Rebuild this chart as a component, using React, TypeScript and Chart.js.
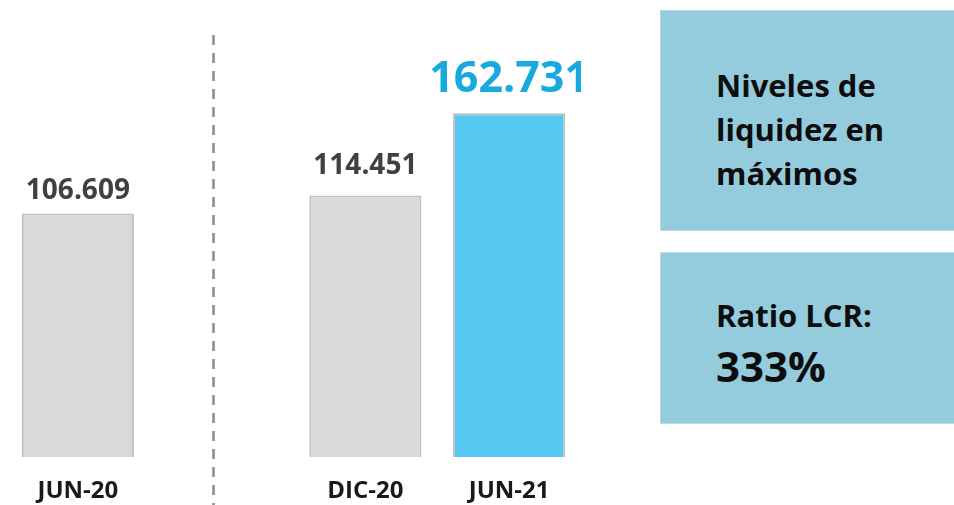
import React, { useEffect, useRef } from "react";
import { Chart, registerables } from "chart.js";

Chart.register(...registerables);

const categories = ["JUN-20", "", "DIC-20", "JUN-21"];
// bar heights as drawn in the picture (the chart is not to scale for the last bar)
const barHeights = [106.609, null, 114.451, 150.5];
const valueLabels = ["106.609", "", "114.451", "162.731"];
const barColors = ["#D9D9D9", "#D9D9D9", "#D9D9D9", "#56C9F3"];
const labelColors = ["#404040", "#404040", "#404040", "#18A9DE"];
const labelSizes = [28, 28, 28, 43];
const labelGaps = [14, 0, 22, 21];
const boxTitle = ["Niveles de", "liquidez en", "máximos"];
const ratioLabel = "Ratio LCR:";
const ratioValue = "333%";

const FONT = "'Open Sans', sans-serif";

const valueLabelPlugin = {
  id: "valueLabels",
  afterDatasetsDraw(chart: any) {
    const ctx = chart.ctx;
    const meta = chart.getDatasetMeta(0);
    ctx.save();
    ctx.textAlign = "center";
    ctx.textBaseline = "alphabetic";
    meta.data.forEach((bar: any, i: number) => {
      if (!valueLabels[i]) return;
      ctx.font = `bold ${labelSizes[i]}px ${FONT}`;
      ctx.fillStyle = labelColors[i];
      ctx.fillText(valueLabels[i], bar.x, bar.y - labelGaps[i]);
    });
    ctx.restore();
  },
};

const dividerPlugin = {
  id: "divider",
  beforeDatasetsDraw(chart: any) {
    const ctx = chart.ctx;
    const x = Math.round(chart.scales.x.getPixelForValue(0.94)) + 0.5;
    ctx.save();
    ctx.strokeStyle = "#8C8C8C";
    ctx.lineWidth = 2.5;
    ctx.setLineDash([10, 8]);
    ctx.beginPath();
    ctx.moveTo(x, 35);
    ctx.lineTo(x, chart.height);
    ctx.stroke();
    ctx.restore();
  },
};

export default function App() {
  const ref = useRef<HTMLCanvasElement>(null);
  useEffect(() => {
    const chart = new Chart(ref.current!, {
      type: "bar",
      data: {
        labels: categories,
        datasets: [
          {
            data: barHeights as any,
            backgroundColor: barColors,
            borderColor: "#BFBFBF",
            borderWidth: 2,
            barPercentage: 0.78,
            categoryPercentage: 1,
          },
        ],
      },
      options: {
        animation: false,
        responsive: false,
        maintainAspectRatio: false,
        layout: { padding: { left: 6, right: 0, top: 0, bottom: 0 } },
        plugins: { legend: { display: false }, tooltip: { enabled: false } },
        scales: {
          x: {
            grid: { display: false, drawTicks: false },
            border: { display: false },
            ticks: {
              color: "#1A1A1A",
              font: { family: FONT, size: 24, weight: "bold" },
              padding: 20,
              maxRotation: 0,
            },
          },
          y: { display: false, min: 0, max: 200 },
        },
      },
      plugins: [valueLabelPlugin, dividerPlugin],
    });
    return () => chart.destroy();
  }, []);

  const boxStyle: React.CSSProperties = {
    position: "absolute",
    left: 660,
    width: 300,
    background: "#94CCDE",
    border: "1px solid #B7DAE7",
    boxSizing: "border-box",
    fontFamily: FONT,
    fontWeight: 700,
    color: "#0D0D0D",
  };

  return (
    <div style={{ position: "fixed", left: 0, top: 0, width: 954, height: 505, background: "#fff", overflow: "hidden" }}>
      <canvas ref={ref} width={581} height={526} style={{ position: "absolute", left: 0, top: 0 }} />
      <div style={{ ...boxStyle, top: 10, height: 221 }}>
        <div style={{ position: "absolute", left: 55, top: 52, fontSize: 31, lineHeight: "44px" }}>
          {boxTitle.map((t) => (
            <div key={t}>{t}</div>
          ))}
        </div>
      </div>
      <div style={{ ...boxStyle, top: 252, height: 172 }}>
        <div style={{ position: "absolute", left: 55, top: 42, fontSize: 31, lineHeight: "40px" }}>{ratioLabel}</div>
        <div style={{ position: "absolute", left: 55, top: 88, fontSize: 42, lineHeight: "50px" }}>{ratioValue}</div>
      </div>
    </div>
  );
}
